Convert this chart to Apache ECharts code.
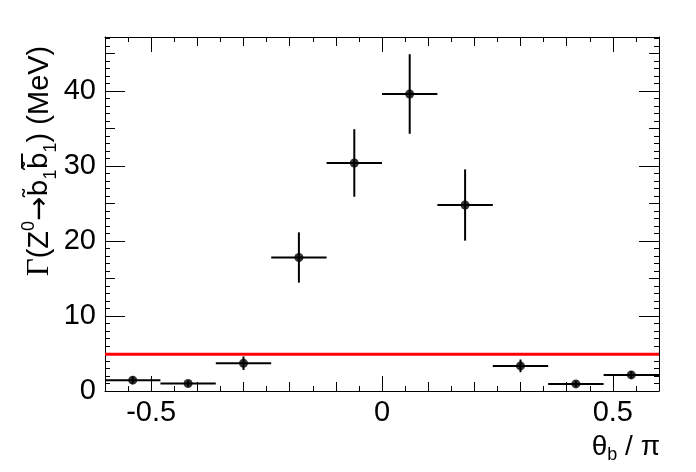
<!DOCTYPE html>
<html>
<head>
<meta charset="utf-8">
<script src="https://cdn.jsdelivr.net/npm/echarts@6/dist/echarts.min.js"></script>
<style>
  html, body { margin: 0; padding: 0; background: #fff; }
  #chart { width: 696px; height: 472px; }
</style>
</head>
<body>
<div id="chart"></div>
<script>
// bin centres (theta_b / pi) and measured widths
var binCenters = [-0.54, -0.42, -0.30, -0.18, -0.06, 0.06, 0.18, 0.30, 0.42, 0.54];
var binHalfWidth = [0.06, 0.06, 0.06, 0.06, 0.06, 0.06, 0.06, 0.06, 0.06, 0.06];
// partial width in MeV and its error
var widthMeV = [1.45, 1.0, 3.7, 17.8, 30.4, 39.6, 24.8, 3.35, 0.95, 2.15];
var widthErr = [0.5, 0.4, 0.9, 3.35, 4.5, 5.3, 4.75, 0.85, 0.4, 0.5];
// red horizontal reference level
var refLevel = [[-0.6, 4.9], [0.6, 4.9]];
// tick labels
var xLabels = [-0.5, 0, 0.5];
var yLabels = [0, 10, 20, 30, 40];

var FONT = 'Liberation Sans, Arial, sans-serif';

var chart = echarts.init(document.getElementById('chart'));

var points = binCenters.map(function (x, i) {
  return [x, widthMeV[i], binHalfWidth[i], widthErr[i]];
});

function renderErr(params, api) {
  var x = api.value(0), y = api.value(1), ex = api.value(2), ey = api.value(3);
  var l = api.coord([x - ex, y]), r = api.coord([x + ex, y]);
  var t = api.coord([x, y + ey]), b = api.coord([x, y - ey]);
  var st = { stroke: '#000', lineWidth: 2 };
  return {
    type: 'group',
    children: [
      { type: 'line', shape: { x1: l[0], y1: l[1], x2: r[0], y2: r[1] }, style: st },
      { type: 'line', shape: { x1: t[0], y1: t[1], x2: b[0], y2: b[1] }, style: st }
    ]
  };
}

function xAxisDef(pos, major, labels) {
  return {
    type: 'value', position: pos, min: -0.6, max: 0.6,
    interval: 0.1,
    axisLine: { show: !major, onZero: false, lineStyle: { color: '#000', width: 1 } },
    axisTick: major
      ? { show: true, inside: true, length: 15, customValues: xLabels, lineStyle: { color: '#000' } }
      : { show: true, inside: true, length: 9, lineStyle: { color: '#000' } },
    minorTick: { show: !major, splitNumber: 2, length: 5, lineStyle: { color: '#000' } },
    axisLabel: labels
      ? { show: true, customValues: xLabels, fontSize: 29, fontFamily: FONT, color: '#000', margin: 7 }
      : { show: false },
    splitLine: { show: false }
  };
}

function yAxisDef(pos, major, labels) {
  return {
    type: 'value', position: pos, min: 0, max: 47.2,
    interval: 5,
    axisLine: { show: !major, onZero: false, lineStyle: { color: '#000', width: 1 } },
    axisTick: major
      ? { show: true, inside: true, length: 20, customValues: yLabels, lineStyle: { color: '#000' } }
      : { show: true, inside: true, length: 10, lineStyle: { color: '#000' } },
    minorTick: { show: !major, splitNumber: 5, length: 5, lineStyle: { color: '#000' } },
    axisLabel: labels
      ? { show: true, customValues: yLabels, fontSize: 29, fontFamily: FONT, color: '#000', margin: 9 }
      : { show: false },
    splitLine: { show: false }
  };
}

// y title pieces, measured so the anti-particle bar can sit over the second b
var titleRich = {
  g: { fontFamily: 'Liberation Serif, serif', fontSize: 31, lineHeight: 40, fill: '#000' },
  m: { fontFamily: FONT, fontSize: 29, lineHeight: 40, fill: '#000' },
  a: { fontFamily: 'DejaVu Sans, sans-serif', fontSize: 29, lineHeight: 40, fill: '#000' },
  b: { fontFamily: 'DejaVu Sans, sans-serif', fontSize: 27, lineHeight: 40, fill: '#000' },
  sup: { fontFamily: FONT, fontSize: 18, lineHeight: 24, verticalAlign: 'top', fill: '#000' },
  sub: { fontFamily: FONT, fontSize: 18, lineHeight: 24, verticalAlign: 'bottom', fill: '#000' }
};
var titleParts = [
  ['g', 'Γ'], ['m', '(Z'], ['sup', '0'], ['a', '→'], ['b', 'b\u0303'], ['sub', '1'],
  ['b', 'b\u0303'], ['sub', '1'], ['m', ') (MeV)']
];
var ctx = document.createElement('canvas').getContext('2d');
function partWidth(p) {
  var s = titleRich[p[0]];
  ctx.font = s.fontSize + 'px ' + s.fontFamily;
  return ctx.measureText(p[1]).width;
}
var widths = titleParts.map(partWidth);
var total = widths.reduce(function (a, b) { return a + b; }, 0);
var before = widths.slice(0, 6).reduce(function (a, b) { return a + b; }, 0);
var titleX = 40, titleY = 161;
var startY = titleY + total / 2;
var barY1 = startY - before - widths[6];
var barH = widths[6];

var option = {
  animation: false,
  backgroundColor: '#fff',
  grid: { left: 105, right: 37, top: 37, bottom: 81, containLabel: false },
  xAxis: [
    xAxisDef('bottom', false, true),
    xAxisDef('bottom', true, false),
    xAxisDef('top', false, false),
    xAxisDef('top', true, false)
  ],
  yAxis: [
    yAxisDef('left', false, true),
    yAxisDef('left', true, false),
    yAxisDef('right', false, false),
    yAxisDef('right', true, false)
  ],
  graphic: [
    {
      type: 'text', x: titleX, y: titleY, rotation: Math.PI / 2,
      style: {
        text: titleParts.map(function (p) { return '{' + p[0] + '|' + p[1] + '}'; }).join(''),
        align: 'center', verticalAlign: 'middle', fill: '#000',
        rich: titleRich
      }
    },
    {
      type: 'rect',
      shape: { x: 21, y: barY1 + 1, width: 2, height: barH - 2 },
      style: { fill: '#000' }
    },
    {
      type: 'text', x: 660, y: 447,
      style: {
        text: '{m|θ}{sub|b}{m| / π}',
        align: 'right', verticalAlign: 'middle', fill: '#000',
        rich: {
          m: { fontFamily: FONT, fontSize: 28, lineHeight: 34, fill: '#000' },
          sub: { fontFamily: FONT, fontSize: 18, lineHeight: 22, verticalAlign: 'bottom', fill: '#000' }
        }
      }
    }
  ],
  series: [
    {
      type: 'line', data: refLevel, xAxisIndex: 0, yAxisIndex: 0,
      symbol: 'none', lineStyle: { color: '#ff0000', width: 3 }, z: 2, silent: true
    },
    {
      type: 'custom', data: points, xAxisIndex: 0, yAxisIndex: 0,
      renderItem: renderErr, clip: true, z: 3, silent: true
    },
    {
      type: 'scatter', data: points, xAxisIndex: 0, yAxisIndex: 0,
      symbol: 'circle', symbolSize: 9, itemStyle: { color: '#000' }, z: 4, silent: true
    }
  ]
};

chart.setOption(option);
</script>
</body>
</html>
